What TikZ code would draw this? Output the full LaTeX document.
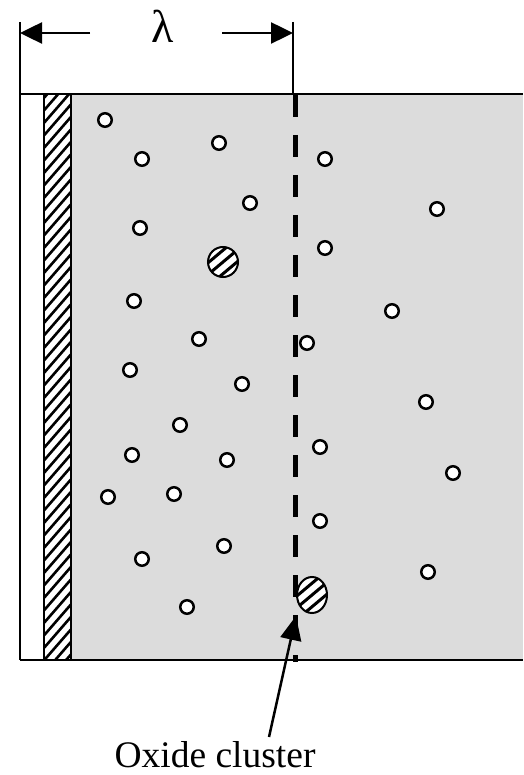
\documentclass[tikz,border=0pt]{standalone}
\usepackage{fontspec}
\setmainfont{Liberation Serif}
\usetikzlibrary{arrows.meta}
\definecolor{matrixgray}{HTML}{DCDCDC}
\begin{document}
\begin{tikzpicture}[x=1pt,y=-1pt,
  pore/.style={circle,draw,fill=white,line width=2.5pt,minimum size=13.5pt,inner sep=0pt},
  border/.style={line width=2.5pt},
  dimarrow/.style={line width=2.5pt,-{Triangle[length=22pt,width=21pt]}},
  barrier/.style={line width=5pt,dash pattern=on 22pt off 18pt},
  hatchline/.style={line width=3pt},
  striphatch/.style={line width=2.6pt}]
\useasboundingbox (0,0) rectangle (523,775);
% matrix region
\fill[matrixgray] (71,94) rectangle (523,660);
% hatched strip
\begin{scope}
  \clip (44,94) rectangle (71,660);
  \foreach \i in {0,...,60} \draw[striphatch] (40,{90+\i*12.5}) -- ++(40,-46);
\end{scope}
\draw[line width=2pt] (44,94) -- (44,660);
\draw[line width=2pt] (71,94) -- (71,660);
% outline
\draw[border] (20,22) -- (20,660);
\draw[border] (20,94) -- (523,94);
\draw[border] (20,660) -- (523,660);
\draw[border] (293,22) -- (293,94);
% dimension
\node[font=\fontsize{46}{50}\selectfont] (lam) at (163,26) {λ};
\coordinate (lend) at (20,33);
\coordinate (rend) at (293,33);
\coordinate (lstart) at (90,33);
\coordinate (rstart) at (222,33);
\draw[dimarrow] (lstart) -- (lend);
\draw[dimarrow] (rstart) -- (rend);
% pores
\foreach \x/\y [count=\n] in {105/120,142/159,219/143,325/159,250/203,437/209,140/228,325/248,
  134/301,392/311,199/339,307/343,130/370,242/384,426/402,180/425,320/447,132/455,227/460,
  453/473,108/497,174/494,320/521,142/559,224/546,428/572,187/607}
  \node[pore] (p\n) at (\x,\y) {};
% big oxide cluster
\coordinate (blobA) at (223,262);
\begin{scope}
  \clip (blobA) circle [radius=15];
  \fill[white] (blobA) circle [radius=15];
  \foreach \k in {-3,...,3} \draw[hatchline] ({223+\k*5.8-25},{262+\k*6.9+21}) -- ++(50,-42);
\end{scope}
\draw[line width=2pt] (blobA) circle [radius=15];
% dashed interface
\coordinate (dtop) at (295,95);
\coordinate (dbot) at (295,662);
\draw[barrier] (dtop) -- (dbot);
% cluster on interface
\coordinate (blobB) at (312,595);
\begin{scope}
  \clip (blobB) ellipse [x radius=15, y radius=18];
  \fill[white] (blobB) ellipse [x radius=15, y radius=18];
  \foreach \k in {-3,...,3} \draw[hatchline] ({312+\k*5.8-25},{595+\k*6.9+21}) -- ++(50,-42);
\end{scope}
\draw[line width=2pt] (blobB) ellipse [x radius=15, y radius=18];
% label
\node[font=\fontsize{37.5}{42}\selectfont, anchor=base] (oxlabel) at (215,767) {Oxide cluster};
\coordinate (oxtail) at (269,737);
\coordinate (oxtip) at (296,616);
\draw[line width=2.5pt,-{Triangle[length=24pt,width=21pt]}] (oxtail) -- (oxtip);
\end{tikzpicture}
\end{document}
